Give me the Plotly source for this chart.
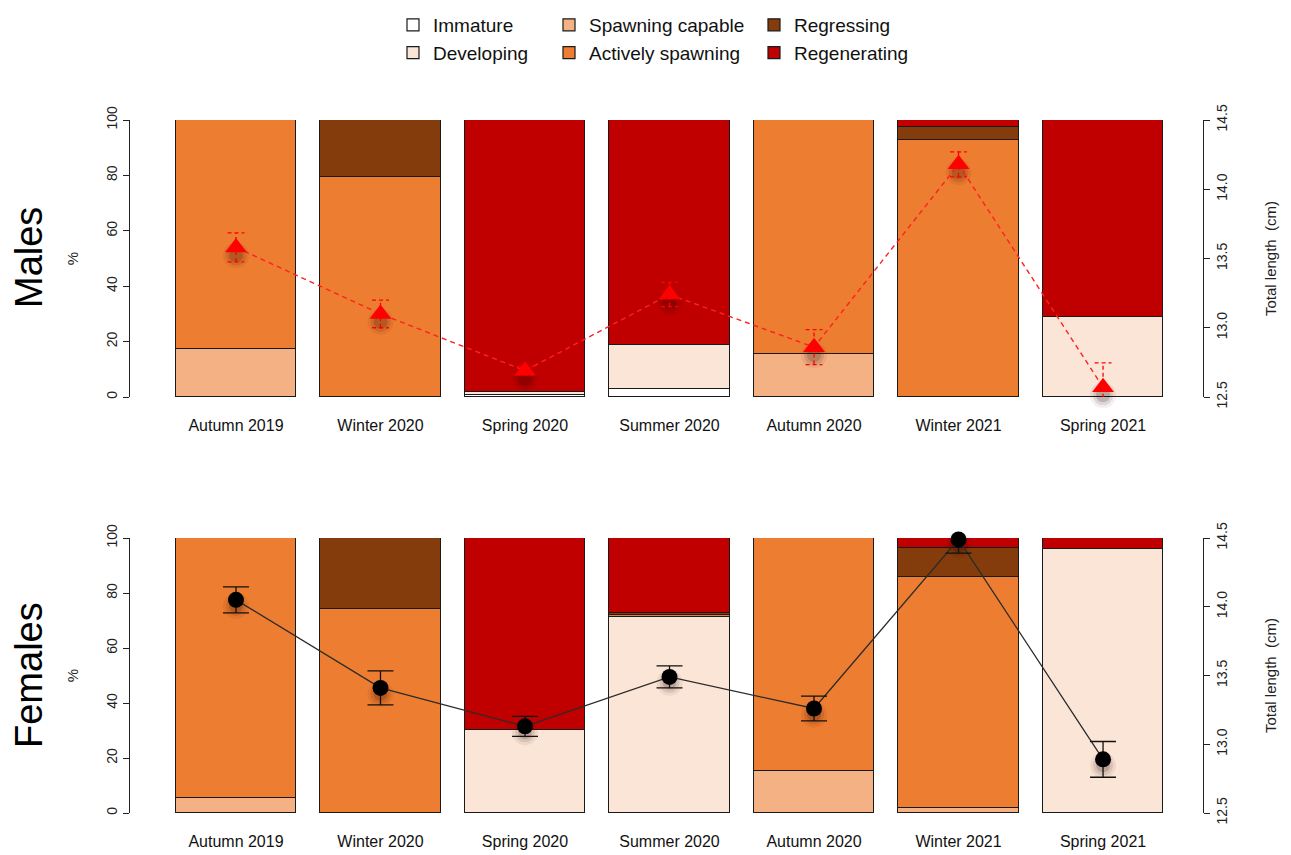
import numpy as np
import plotly.graph_objects as go

# ---------------- data ----------------
seasons = ["Autumn 2019", "Winter 2020", "Spring 2020", "Summer 2020",
           "Autumn 2020", "Winter 2021", "Spring 2021"]
stages = ["Immature", "Developing", "Spawning capable",
          "Actively spawning", "Regressing", "Regenerating"]
stage_colors = ["#FFFFFF", "#FBE5D6", "#F4B183", "#ED7D31", "#843C0C", "#C00000"]

# Males: % of each maturity stage per season
m_immature      = [0.0, 0.0, 0.9, 2.9, 0.0, 0.0, 0.0]
m_developing    = [0.0, 0.0, 1.0, 15.9, 0.0, 0.0, 28.9]
m_spawn_capable = [17.3, 0.0, 0.0, 0.0, 15.5, 0.0, 0.0]
m_active        = [82.7, 79.5, 0.0, 0.0, 84.5, 92.8, 0.0]
m_regressing    = [0.0, 20.5, 0.0, 0.0, 0.0, 4.7, 0.0]
m_regenerating  = [0.0, 0.0, 98.1, 81.2, 0.0, 2.5, 71.1]

# Females
f_immature      = [0.0, 0.0, 0.0, 0.0, 0.0, 0.0, 0.0]
f_developing    = [0.0, 0.0, 30.2, 71.2, 0.0, 0.0, 96.0]
f_spawn_capable = [5.4, 0.0, 0.0, 0.0, 15.3, 1.8, 0.0]
f_active        = [94.6, 74.2, 0.0, 0.9, 84.7, 84.0, 0.0]
f_regressing    = [0.0, 25.8, 0.0, 0.5, 0.0, 10.6, 0.0]
f_regenerating  = [0.0, 0.0, 69.8, 27.4, 0.0, 3.6, 4.0]

# Mean total length (cm) and standard error
m_tl_mean = [13.58, 13.10, 12.69, 13.24, 12.86, 14.18, 12.57]
m_tl_se   = [0.105, 0.10, 0.03, 0.087, 0.126, 0.09, 0.177]
f_tl_mean = [14.05, 13.41, 13.13, 13.49, 13.26, 14.49, 12.89]
f_tl_se   = [0.095, 0.124, 0.073, 0.08, 0.09, 0.10, 0.13]

males = [m_immature, m_developing, m_spawn_capable, m_active, m_regressing, m_regenerating]
females = [f_immature, f_developing, f_spawn_capable, f_active, f_regressing, f_regenerating]

# ---------------- figure ----------------
n = len(seasons)
centers = 0.7 + 1.2 * np.arange(n)   # R barplot positions (width 1, space 0.2)
FONT = "Liberation Sans, Arial, sans-serif"
W, H = 1291, 855

fig = go.Figure()
legend_ids = ["legend", "legend", "legend2", "legend2", "legend3", "legend3"]

for panel, (data, xa, ya) in enumerate([(males, "x", "y"), (females, "x2", "y3")]):
    for k, (name, col, vals) in enumerate(zip(stages, stage_colors, data)):
        fig.add_trace(go.Bar(
            x=centers, y=vals, width=1.0, name=name,
            marker=dict(color=col, line=dict(color="#1a1a1a", width=1.2)),
            xaxis=xa, yaxis=ya, showlegend=(panel == 0),
            legend=legend_ids[k], legendgroup=name,
        ))

# soft drop shadow under the markers (visual effect in the original)
cm_per_px = 2.0 / 277.0
def add_shadow(means, xa, ya, dy_px):
    ys = np.array(means) - dy_px * cm_per_px
    for size, alpha in [(26, 0.06), (20, 0.10), (14, 0.16)]:
        fig.add_trace(go.Scatter(x=centers, y=ys, mode="markers", xaxis=xa, yaxis=ya,
                                 marker=dict(symbol="circle", size=size,
                                             color=f"rgba(40,0,0,{alpha})", line=dict(width=0)),
                                 showlegend=False, cliponaxis=False, hoverinfo="skip"))

add_shadow(m_tl_mean, "x", "y2", 8)
add_shadow(f_tl_mean, "x2", "y4", 6)

# Males total length: dashed red line + triangles + dashed error bars
mm = np.array(m_tl_mean); ms = np.array(m_tl_se)
cw = 0.07
ex, ey = [], []
for xc, m, s in zip(centers, mm, ms):
    ex += [xc, xc, None, xc - cw, xc + cw, None, xc - cw, xc + cw, None]
    ey += [m - s, m + s, None, m + s, m + s, None, m - s, m - s, None]
fig.add_trace(go.Scatter(x=ex, y=ey, mode="lines", xaxis="x", yaxis="y2",
                         line=dict(color="#FF0000", width=1.3, dash="4px,3px"),
                         showlegend=False, cliponaxis=False, hoverinfo="skip"))
fig.add_trace(go.Scatter(x=centers, y=m_tl_mean, mode="lines", xaxis="x", yaxis="y2",
                         line=dict(color="#FF2020", width=1.4, dash="5px,4px"),
                         showlegend=False, cliponaxis=False))
fig.add_trace(go.Scatter(x=centers, y=m_tl_mean, mode="markers", xaxis="x", yaxis="y2",
                         marker=dict(symbol="triangle-up", size=19, color="#FF0000",
                                     line=dict(width=0)),
                         showlegend=False, cliponaxis=False))

# Females total length: black line + circles + error bars
fig.add_trace(go.Scatter(x=centers, y=f_tl_mean, mode="lines", xaxis="x2", yaxis="y4",
                         line=dict(color="#2a2a2a", width=1.3),
                         showlegend=False, cliponaxis=False))
fig.add_trace(go.Scatter(x=centers, y=f_tl_mean, mode="markers", xaxis="x2", yaxis="y4",
                         marker=dict(symbol="circle", size=16, color="#000000"),
                         error_y=dict(type="data", array=f_tl_se, visible=True,
                                      color="#111111", thickness=1.3, width=13),
                         showlegend=False, cliponaxis=False))

xdom = [130 / W, 1203 / W]
m_dom = [1 - 397 / H, 1 - 120 / H]
f_dom = [1 - 813 / H, 1 - 538 / H]
xr = [-0.18, 8.73]

tickfont = dict(family=FONT, size=14, color="#222222")
xcommon = dict(range=xr, tickmode="array", tickvals=centers, ticktext=seasons,
               showline=False, ticks="", showgrid=False, zeroline=False,
               tickfont=dict(family=FONT, size=16, color="#111111"),
               ticklabelstandoff=17, fixedrange=True, automargin=False)
ycommon = dict(range=[0, 100], tickmode="array", tickvals=[0, 20, 40, 60, 80, 100],
               ticks="outside", ticklen=6, tickwidth=1.2, tickcolor="#222222",
               showline=True, linecolor="#222222", linewidth=1.2, showgrid=False,
               zeroline=False, tickangle=-90, tickfont=tickfont, automargin=False,
               title=dict(text="%", font=dict(family=FONT, size=15, color="#222222"),
                          standoff=22))
yrcommon = dict(range=[12.5, 14.5], tickmode="array", tickvals=[12.5, 13.0, 13.5, 14.0, 14.5],
                ticktext=["12.5", "13.0", "13.5", "14.0", "14.5"], side="right",
                ticks="outside", ticklen=6, tickwidth=1.2, tickcolor="#222222",
                showline=True, linecolor="#222222", linewidth=1.2, showgrid=False,
                zeroline=False, tickangle=-90, tickfont=tickfont, automargin=False,
                title=dict(text="Total length  (cm)",
                           font=dict(family=FONT, size=15, color="#222222"), standoff=36))

fig.update_layout(
    width=W, height=H, barmode="stack",
    paper_bgcolor="white", plot_bgcolor="rgba(0,0,0,0)",
    margin=dict(l=0, r=0, t=0, b=0, autoexpand=False),
    font=dict(family=FONT, color="#111111"),
    xaxis=dict(domain=xdom, anchor="y", **xcommon),
    xaxis2=dict(domain=xdom, anchor="y3", **xcommon),
    yaxis=dict(domain=m_dom, anchor="x", **ycommon),
    yaxis2=dict(overlaying="y", anchor="x", **yrcommon),
    yaxis3=dict(domain=f_dom, anchor="x2", **ycommon),
    yaxis4=dict(overlaying="y3", anchor="x2", **yrcommon),
    bargap=0,
    showlegend=True,
)

legfont = dict(family=FONT, size=19, color="#111111")
for lid, xpos in [("legend", 393), ("legend2", 549), ("legend3", 754)]:
    fig.update_layout({lid: dict(x=xpos / W, xanchor="left", y=1 - 6 / H, yanchor="top",
                                 orientation="v", font=legfont, bgcolor="rgba(0,0,0,0)",
                                 borderwidth=0, tracegroupgap=0,
                                 traceorder="grouped", itemclick=False,
                                 itemdoubleclick=False)})

fig.add_annotation(text="Males", x=29 / W, y=1 - 258 / H, xref="paper", yref="paper",
                   xanchor="center", yanchor="middle",
                   textangle=-90, showarrow=False,
                   font=dict(family=FONT, size=38, color="#000000"))
fig.add_annotation(text="Females", x=29 / W, y=1 - 675 / H, xref="paper", yref="paper",
                   xanchor="center", yanchor="middle",
                   textangle=-90, showarrow=False,
                   font=dict(family=FONT, size=38, color="#000000"))

fig.write_html("out.html")
